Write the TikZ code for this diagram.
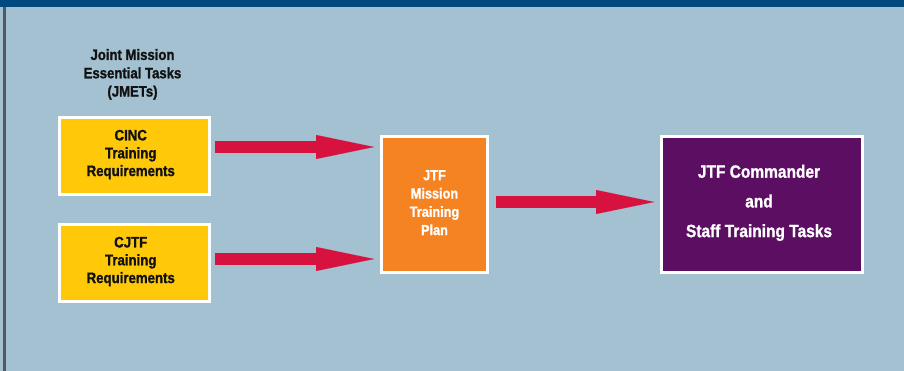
\documentclass[tikz,border=0pt]{standalone}
\usepackage{fontspec}
\newfontfamily\cond[FakeStretch=0.87, FakeBold=1.2]{Liberation Sans}
\usetikzlibrary{arrows.meta}
\definecolor{bgblue}{HTML}{A3C1D1}
\definecolor{topbar}{HTML}{004A80}
\definecolor{edgegrey}{HTML}{505A62}
\definecolor{boxyellow}{HTML}{FFC90A}
\definecolor{boxorange}{HTML}{F58322}
\definecolor{boxpurple}{HTML}{5C0E63}
\definecolor{arrowred}{HTML}{D7123F}
\definecolor{txtdark}{HTML}{111111}
\newcommand{\txtlines}[3]{\raisebox{#1}[\height][\depth]{\begin{tabular}{@{}c@{\hspace{#2}}}#3\end{tabular}}}
\tikzset{
  box/.style={draw=white, line width=3pt, inner sep=0pt, outer sep=0pt},
  reqbox/.style={box, fill=boxyellow, text=txtdark, minimum width=150pt, minimum height=77pt,
    font=\cond\bfseries\fontsize{15.2}{17.8}\selectfont},
  planbox/.style={box, fill=boxorange, text=white, minimum width=106pt, minimum height=136pt,
    font=\cond\bfseries\fontsize{14.6}{18.3}\selectfont},
  taskbox/.style={box, fill=boxpurple, text=white, minimum width=201pt, minimum height=136pt,
    font=\cond\bfseries\fontsize{17.8}{29.7}\selectfont},
  headtxt/.style={inner sep=0pt, text=txtdark,
    font=\cond\bfseries\fontsize{15.1}{18.3}\selectfont},
  bigarrow/.style={draw=arrowred, line width=12pt,
    -{Triangle[length=58pt, width=24pt, line width=0.01pt, fill=arrowred]}}
}
\begin{document}
\begin{tikzpicture}[x=1pt, y=-1pt]
\useasboundingbox (0,0) rectangle (904,371);
\fill[bgblue] (0,0) rectangle (904,371);
\fill[topbar] (0,0) rectangle (904,7);
\fill[edgegrey] (3,7) rectangle (5.5,371);

\node[headtxt] (head) at (132.5,74.6) {\txtlines{0pt}{0pt}{Joint Mission\\Essential Tasks\\(JMETs)}};
\node[reqbox] (cinc) at (134.5,156) {\txtlines{1.3pt}{7.5pt}{CINC\\Training\\Requirements}};
\node[reqbox] (cjtf) at (134.5,263) {\txtlines{1.3pt}{7.5pt}{CJTF\\Training\\Requirements}};
\node[planbox] (plan) at (434.5,204.5) {\txtlines{0.5pt}{0pt}{JTF\\Mission\\Training\\Plan}};
\node[taskbox] (tasks) at (762,204.5) {\txtlines{3pt}{6pt}{JTF Commander\\and\\Staff Training Tasks}};

\draw[bigarrow, shorten <=5.5pt, shorten >=7.5pt]
  ([yshift=9pt]cinc.east) -- ([yshift=9pt]cinc.east -| plan.west);
\draw[bigarrow, shorten <=5.5pt, shorten >=7.5pt]
  ([yshift=4pt]cjtf.east) -- ([yshift=4pt]cjtf.east -| plan.west);
\draw[bigarrow, shorten <=8.5pt, shorten >=7.5pt]
  ([yshift=2.5pt]plan.east) -- ([yshift=2.5pt]plan.east -| tasks.west);
\end{tikzpicture}
\end{document}
